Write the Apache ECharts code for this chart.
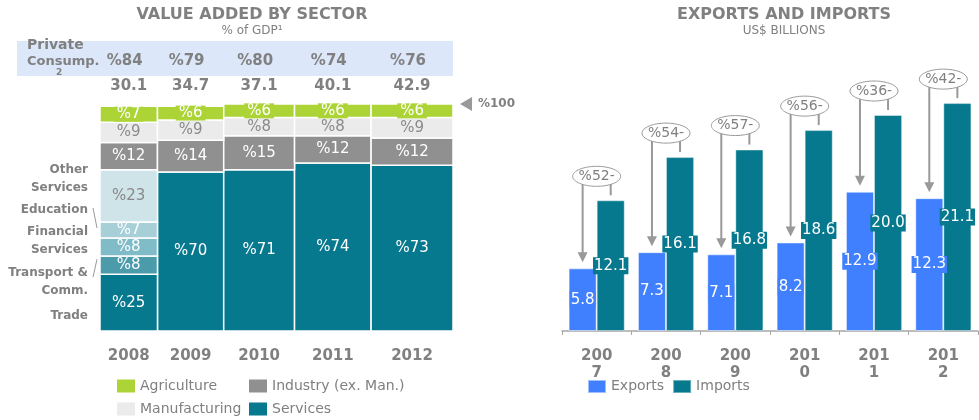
<!DOCTYPE html>
<html>
<head>
<meta charset="utf-8">
<script src="https://cdn.jsdelivr.net/npm/echarts@6/dist/echarts.min.js"></script>
<style>
html, body { margin: 0; padding: 0; background: #fff; }
#main { width: 979px; height: 420px; }
</style>
</head>
<body>
<div id="main"></div>
<script>
// left: value added by sector, % of GDP (column width follows GDP)
var sectorYears = ['2008', '2009', '2010', '2011', '2012'];
var gdp = [30.1, 34.7, 37.1, 40.1, 42.9];
var privateConsumption = [84, 79, 80, 74, 76];
var agriculture = [7, 6, 6, 6, 6];
var manufacturing = [9, 9, 8, 8, 9];
var industry = [12, 14, 15, 12, 12];
var services = [71, 70, 71, 74, 73];
// 2008 services split, bottom to top
var serviceParts = ['Trade', 'Transport &\nComm.', 'Financial\nServices', 'Education', 'Other\nServices'];
var serviceParts2008 = [25, 8, 8, 7, 23];

// right: exports and imports, US$ billions
var tradeYears = ['2007', '2008', '2009', '2010', '2011', '2012'];
var exportsData = [5.8, 7.3, 7.1, 8.2, 12.9, 12.3];
var importsData = [12.1, 16.1, 16.8, 18.6, 20.0, 21.1];
var balanceLabels = ['%52-', '%54-', '%57-', '%56-', '%36-', '%42-'];

var font = 'DejaVu Sans';
var gray = '#808080';
var teal = '#06798e';
var partColors = ['#06798e', '#4c9bab', '#80bbc8', '#a6cfd8', '#cfe4e9'];
var partText = ['#fff', '#fff', '#fff', '#fff', '#888'];
var partNameShift = [13, 17, -6, -20, -17];

var colStart = [];
var acc = 0;
gdp.forEach(function (g) { colStart.push(acc); acc += g; });
var gdpTotal = acc;

function stackData(values, below) {
    return values.map(function (v, i) {
        return [colStart[i], colStart[i] + gdp[i], below[i], below[i] + v, v];
    });
}
var top1 = services.slice();
var top2 = top1.map(function (v, i) { return v + industry[i]; });
var top3 = top2.map(function (v, i) { return v + manufacturing[i]; });
var zero = gdp.map(function () { return 0; });

function sectorRender(color, textColor, labelBg) {
    return function (params, api) {
        var p0 = api.coord([api.value(0), api.value(3)]);
        var p1 = api.coord([api.value(1), api.value(2)]);
        var ts = {
            text: '%' + api.value(4), fill: textColor, fontSize: 15, fontFamily: font,
            align: 'center', verticalAlign: 'middle'
        };
        if (labelBg) { ts.backgroundColor = labelBg; ts.padding = [0, 3]; }
        return {
            type: 'group',
            children: [{
                type: 'rect',
                shape: { x: p0[0], y: p0[1], width: p1[0] - p0[0], height: p1[1] - p0[1] },
                style: { fill: color, stroke: '#fff', lineWidth: 1.5 }
            }, {
                type: 'text', x: (p0[0] + p1[0]) / 2, y: (p0[1] + p1[1]) / 2, z2: 10, style: ts
            }]
        };
    };
}

function sectorSeries(name, values, below, color, textColor, labelBg) {
    return {
        name: name, type: 'custom', xAxisIndex: 0, yAxisIndex: 0,
        itemStyle: { color: color },
        renderItem: sectorRender(color, textColor, labelBg),
        data: stackData(values, below)
    };
}

// services for 2008 is drawn by its split below
var servicesSeries = sectorSeries('Services', services, zero, teal, '#fff');
servicesSeries.data = servicesSeries.data.filter(function (d, i) { return i > 0; });

var partData = [];
var partAcc = 0;
serviceParts2008.forEach(function (v, k) {
    partData.push([colStart[0], colStart[0] + gdp[0], partAcc, partAcc + v, v, k]);
    partAcc += v;
});

function partRender(params, api) {
    var k = api.value(5);
    var p0 = api.coord([api.value(0), api.value(3)]);
    var p1 = api.coord([api.value(1), api.value(2)]);
    var cy = (p0[1] + p1[1]) / 2;
    var kids = [{
        type: 'rect',
        shape: { x: p0[0], y: p0[1], width: p1[0] - p0[0], height: p1[1] - p0[1] },
        style: { fill: partColors[k], stroke: '#fff', lineWidth: 1.5 }
    }, {
        type: 'text', x: (p0[0] + p1[0]) / 2, y: cy,
        style: { text: '%' + api.value(4), fill: partText[k], fontSize: 15, fontFamily: font, align: 'center', verticalAlign: 'middle' }
    }, {
        type: 'text', x: p0[0] - 12, y: cy + partNameShift[k],
        style: { text: serviceParts[k], fill: gray, fontSize: 12, fontWeight: 'bold', fontFamily: font, align: 'right', verticalAlign: 'middle', lineHeight: 18 }
    }];
    if (k === 3) {
        kids.push({ type: 'line', shape: { x1: p0[0] - 7, y1: cy - 22, x2: p0[0] - 3, y2: cy - 2 }, style: { stroke: '#999', lineWidth: 1 } });
    }
    if (k === 1) {
        kids.push({ type: 'line', shape: { x1: p0[0] - 7, y1: cy + 12, x2: p0[0] - 3, y2: cy - 6 }, style: { stroke: '#999', lineWidth: 1 } });
    }
    return { type: 'group', children: kids };
}

function columnLabelRender(params, api) {
    var i = api.value(1);
    var top = api.coord([api.value(0), 100]);
    var bottom = api.coord([api.value(0), 0]);
    var bold = { fill: gray, fontSize: 15, fontWeight: 'bold', fontFamily: font, align: 'center', verticalAlign: 'middle' };
    return {
        type: 'group',
        children: [
            { type: 'text', x: top[0], y: top[1] - 18, style: Object.assign({ text: gdp[i].toFixed(1) }, bold) },
            { type: 'text', x: top[0] - 4, y: top[1] - 43, style: Object.assign({ text: '%' + privateConsumption[i] }, bold) },
            { type: 'text', x: bottom[0], y: bottom[1] + 25, style: Object.assign({ text: sectorYears[i] }, bold) }
        ]
    };
}

function topMarkRender(params, api) {
    var p = api.coord([api.value(0), api.value(1)]);
    return {
        type: 'group',
        children: [
            { type: 'polygon', shape: { points: [[p[0] + 7, p[1]], [p[0] + 19, p[1] - 7], [p[0] + 19, p[1] + 7]] }, style: { fill: '#999' } },
            { type: 'text', x: p[0] + 25, y: p[1], style: { text: '%100', fill: gray, fontSize: 12, fontWeight: 'bold', fontFamily: font, verticalAlign: 'middle' } }
        ]
    };
}

function balanceRender(params, api) {
    var i = api.value(0);
    var c = api.coord([i, 0]);
    var barW = api.size([1, 0])[0] * 0.81 / 2;
    var xe = c[0] - barW / 2;
    var xi = c[0] + barW / 2;
    var ye = api.coord([i, api.value(1)])[1];
    var yi = api.coord([i, api.value(2)])[1];
    var cy = yi - 24;
    var ls = { stroke: '#999', lineWidth: 2 };
    return {
        type: 'group',
        children: [
            { type: 'line', shape: { x1: xe, y1: cy, x2: xe, y2: ye - 15 }, style: ls },
            { type: 'polygon', shape: { points: [[xe - 5, ye - 16], [xe + 5, ye - 16], [xe, ye - 6]] }, style: { fill: '#999' } },
            { type: 'line', shape: { x1: xi, y1: cy, x2: xi, y2: yi - 5 }, style: ls },
            { type: 'ellipse', shape: { cx: c[0], cy: cy, rx: 24, ry: 10 }, style: { fill: '#fff', stroke: '#999', lineWidth: 1 } },
            { type: 'text', x: c[0], y: cy, style: { text: balanceLabels[i], fill: gray, fontSize: 14, fontFamily: font, align: 'center', verticalAlign: 'middle' } }
        ]
    };
}

function legendAt(names, left, top) {
    return {
        data: names, left: left, top: top, padding: 0,
        icon: 'rect', itemWidth: 18, itemHeight: 13, itemGap: 8,
        textStyle: { color: gray, fontSize: 14 }
    };
}

var chart = echarts.init(document.getElementById('main'));
var option = {
    animation: false,
    textStyle: { fontFamily: font },
    title: [{
        text: 'VALUE ADDED BY SECTOR', subtext: '% of GDP¹',
        left: 247, top: 2, textAlign: 'center', itemGap: 2,
        textStyle: { fontSize: 16, fontWeight: 'bold', color: gray },
        subtextStyle: { fontSize: 12, color: gray }
    }, {
        text: 'EXPORTS AND IMPORTS', subtext: 'US$ BILLIONS',
        left: 779, top: 2, textAlign: 'center', itemGap: 2,
        textStyle: { fontSize: 16, fontWeight: 'bold', color: gray },
        subtextStyle: { fontSize: 12, color: gray }
    }],
    graphic: [
        { type: 'rect', z: -1, shape: { x: 17, y: 41, width: 436, height: 35 }, style: { fill: '#dde7fa' } },
        { type: 'text', x: 27, y: 45, style: { text: 'Private', fill: gray, fontSize: 14, fontWeight: 'bold', fontFamily: font, verticalAlign: 'middle' } },
        { type: 'text', x: 27, y: 62, style: { text: 'Consump.', fill: gray, fontSize: 13, fontWeight: 'bold', fontFamily: font, verticalAlign: 'middle' } },
        { type: 'text', x: 56, y: 73, style: { text: '2', fill: gray, fontSize: 9, fontWeight: 'bold', fontFamily: font, verticalAlign: 'middle' } }
    ],
    legend: [
        legendAt(['Agriculture'], 117, 379),
        legendAt(['Manufacturing'], 117, 402),
        legendAt(['Industry (ex. Man.)'], 249, 379),
        legendAt(['Services'], 249, 402),
        legendAt(['Exports', 'Imports'], 587, 379)
    ],
    grid: [
        { left: 100, top: 104, width: 353, height: 227 },
        { left: 562, top: 61, width: 416, height: 270 }
    ],
    xAxis: [
        { gridIndex: 0, type: 'value', min: 0, max: gdpTotal, show: false },
        {
            gridIndex: 1, type: 'category', data: tradeYears,
            axisLine: { lineStyle: { color: '#a6a6a6', width: 1.5 } },
            axisTick: { show: true, length: 4, lineStyle: { color: '#a6a6a6' } },
            axisLabel: {
                color: gray, fontSize: 15, fontWeight: 'bold', lineHeight: 17, margin: 17,
                formatter: function (v) { return v.slice(0, 3) + '\n' + v.slice(3); }
            }
        }
    ],
    yAxis: [
        { gridIndex: 0, type: 'value', min: 0, max: 100, show: false },
        { gridIndex: 1, type: 'value', min: 0, max: 25, show: false }
    ],
    series: [
        servicesSeries,
        {
            name: 'Services 2008', type: 'custom', xAxisIndex: 0, yAxisIndex: 0,
            renderItem: partRender, data: partData
        },
        sectorSeries('Industry (ex. Man.)', industry, top1, '#909090', '#fff'),
        sectorSeries('Manufacturing', manufacturing, top2, '#ebebeb', '#8a8a8a'),
        sectorSeries('Agriculture', agriculture, top3, '#acd436', '#fff', '#acd436'),
        {
            type: 'custom', xAxisIndex: 0, yAxisIndex: 0, renderItem: columnLabelRender,
            data: gdp.map(function (g, i) { return [colStart[i] + g / 2, i]; })
        },
        {
            type: 'custom', xAxisIndex: 0, yAxisIndex: 0, renderItem: topMarkRender, clip: false,
            data: [[gdpTotal, 100]]
        },
        {
            name: 'Exports', type: 'bar', xAxisIndex: 1, yAxisIndex: 1,
            data: exportsData, barGap: 0, barCategoryGap: '19%',
            itemStyle: { color: '#4080ff', borderColor: 'rgba(255,255,255,0.5)', borderWidth: 1 },
            label: {
                show: true, position: 'inside', color: '#fff', fontSize: 15,
                backgroundColor: '#4080ff', padding: [1, 1],
                formatter: function (p) { return p.value.toFixed(1); }
            }
        },
        {
            name: 'Imports', type: 'bar', xAxisIndex: 1, yAxisIndex: 1,
            data: importsData,
            itemStyle: { color: teal, borderColor: 'rgba(255,255,255,0.4)', borderWidth: 1 },
            label: {
                show: true, position: 'inside', color: '#fff', fontSize: 15,
                backgroundColor: teal, padding: [1, 1],
                formatter: function (p) { return p.value.toFixed(1); }
            }
        },
        {
            type: 'custom', xAxisIndex: 1, yAxisIndex: 1, renderItem: balanceRender, clip: false, z: 5,
            data: tradeYears.map(function (y, i) { return [i, exportsData[i], importsData[i]]; })
        }
    ]
};
chart.setOption(option);
</script>
</body>
</html>
